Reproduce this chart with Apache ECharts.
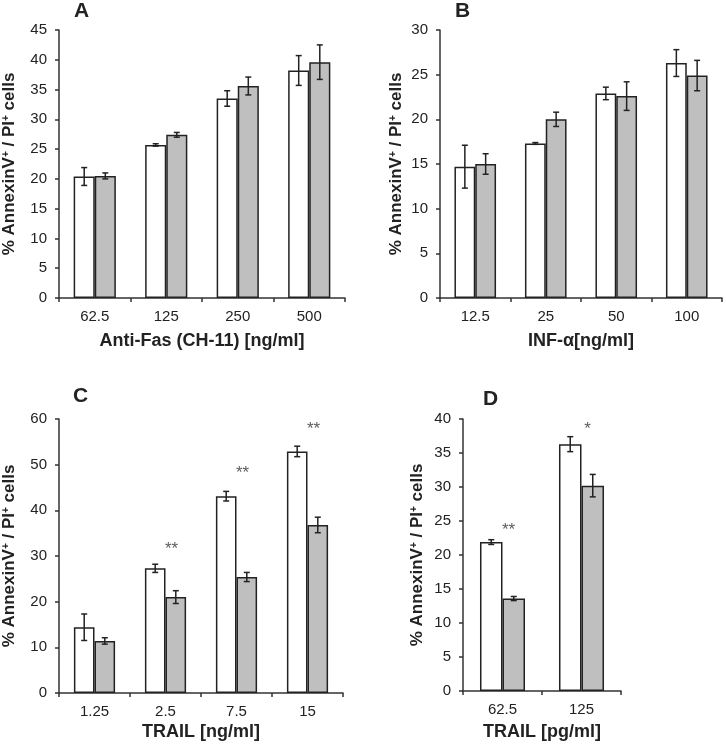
<!DOCTYPE html>
<html>
<head>
<meta charset="utf-8">
<script src="https://cdn.jsdelivr.net/npm/echarts@6/dist/echarts.min.js"></script>
<style>html,body{margin:0;padding:0;background:#fff}#c{width:726px;height:750px}</style>
</head>
<body>
<div id="c"></div>
<script>
// Panel A: Anti-Fas (CH-11)
const catsA = ['62.5', '125', '250', '500'];
const whiteA = [20.4, 25.7, 33.5, 38.2];
const whiteErrA = [1.5, 0.2, 1.3, 2.5];
const greyA = [20.5, 27.4, 35.6, 39.6];
const greyErrA = [0.5, 0.4, 1.5, 2.9];
// Panel B: INF-alpha
const catsB = ['12.5', '25', '50', '100'];
const whiteB = [14.7, 17.3, 22.9, 26.3];
const whiteErrB = [2.4, 0.1, 0.7, 1.5];
const greyB = [15.0, 20.0, 22.6, 24.9];
const greyErrB = [1.15, 0.8, 1.6, 1.7];
// Panel C: TRAIL ng/ml
const catsC = ['1.25', '2.5', '7.5', '15'];
const whiteC = [14.4, 27.3, 43.1, 52.9];
const whiteErrC = [2.9, 0.9, 1.05, 1.15];
const greyC = [11.4, 21.0, 25.4, 36.8];
const greyErrC = [0.7, 1.4, 1.0, 1.7];
const sigC = ['', '**', '**', '**'];
const sigYC = [null, 32.1, 48.7, 58.3];
// Panel D: TRAIL pg/ml
const catsD = ['62.5', '125'];
const whiteD = [21.9, 36.3];
const whiteErrD = [0.35, 1.1];
const greyD = [13.6, 30.2];
const greyErrD = [0.3, 1.65];
const sigD = ['**', '*'];
const sigYD = [24.1, 38.9];

const FONT = "'Liberation Sans', Arial, sans-serif";
const DARK = '#222';

const panels = [
  {cats: catsA, w: whiteA, we: whiteErrA, g: greyA, ge: greyErrA, max: 45, interval: 5, gap: 0.41,
   grid: {left: 59, top: 30, width: 286, height: 268}, xname: 'Anti-Fas (CH-11) [ng/ml]', xgap: 34, ygap: 41},
  {cats: catsB, w: whiteB, we: whiteErrB, g: greyB, ge: greyErrB, max: 30, interval: 5, gap: 0.41,
   grid: {left: 440, top: 30, width: 282, height: 268}, xname: 'INF-\u03b1[ng/ml]', xgap: 34, ygap: 35},
  {cats: catsC, w: whiteC, we: whiteErrC, g: greyC, ge: greyErrC, max: 60, interval: 10, gap: 0.42,
   grid: {left: 59, top: 419, width: 284, height: 274}, xname: 'TRAIL [ng/ml]', xgap: 30, ygap: 41,
   sig: sigC, sigY: sigYC},
  {cats: catsD, w: whiteD, we: whiteErrD, g: greyD, ge: greyErrD, max: 40, interval: 5, gap: 0.43,
   grid: {left: 463, top: 419, width: 158, height: 272}, xname: 'TRAIL [pg/ml]', xgap: 32, ygap: 37,
   sig: sigD, sigY: sigYD}
];

const yName = '{a|% AnnexinV}{s|+}{a| / PI}{s|+}{a| cells}';
const yNameRich = {
  a: {fontSize: 17, fontWeight: 'bold', fontFamily: FONT, color: DARK},
  s: {fontSize: 10, fontWeight: 'bold', fontFamily: FONT, color: DARK, verticalAlign: 'top'}
};

const grids = [], xAxes = [], yAxes = [], series = [];

function errSeries(idx, vals, errs, side, gap) {
  return {
    type: 'custom', xAxisIndex: idx, yAxisIndex: idx, silent: true, z: 10,
    data: vals.map((v, i) => [i, v, errs[i]]),
    renderItem: function (params, api) {
      const i = api.value(0), v = api.value(1), e = api.value(2);
      const band = api.size([1, 0])[0];
      const bw = band * (1 - gap) / 2;
      const c = api.coord([i, v]);
      const x = c[0] + side * bw / 2;
      const top = api.coord([i, v + e])[1];
      const bot = api.coord([i, v - e])[1];
      const cap = 3;
      const st = {stroke: DARK, lineWidth: 1.5};
      return {type: 'group', children: [
        {type: 'line', shape: {x1: x, y1: top, x2: x, y2: bot}, style: st},
        {type: 'line', shape: {x1: x - cap, y1: top, x2: x + cap, y2: top}, style: st},
        {type: 'line', shape: {x1: x - cap, y1: bot, x2: x + cap, y2: bot}, style: st}
      ]};
    }
  };
}

panels.forEach((p, idx) => {
  grids.push(Object.assign({containLabel: false}, p.grid));
  xAxes.push({
    type: 'category', gridIndex: idx, data: p.cats,
    axisLine: {lineStyle: {color: '#333', width: 1.5}},
    axisTick: {show: true, length: 4, lineStyle: {color: '#333', width: 1.5}},
    axisLabel: {fontSize: 15, color: DARK, fontFamily: FONT, margin: 11},
    name: p.xname, nameLocation: 'middle', nameGap: p.xgap,
    nameTextStyle: {fontSize: 18, fontWeight: 'bold', fontFamily: FONT, color: DARK}
  });
  yAxes.push({
    type: 'value', gridIndex: idx, min: 0, max: p.max, interval: p.interval,
    splitLine: {show: false},
    axisLine: {show: true, lineStyle: {color: '#333', width: 1.5}},
    axisTick: {show: true, length: 4, lineStyle: {color: '#333', width: 1.5}},
    axisLabel: {fontSize: 15, color: DARK, fontFamily: FONT, margin: 12},
    name: yName, nameLocation: 'middle', nameGap: p.ygap, nameRotate: 90,
    nameTextStyle: {rich: yNameRich}
  });
  series.push({
    type: 'bar', xAxisIndex: idx, yAxisIndex: idx, data: p.w, barGap: 0, barCategoryGap: (p.gap * 100) + '%',
    itemStyle: {color: '#ffffff', borderColor: DARK, borderWidth: 1.5}, silent: true
  });
  series.push({
    type: 'bar', xAxisIndex: idx, yAxisIndex: idx, data: p.g, barGap: 0, barCategoryGap: (p.gap * 100) + '%',
    itemStyle: {color: '#bfbfbf', borderColor: DARK, borderWidth: 1.5}, silent: true
  });
  series.push(errSeries(idx, p.w, p.we, -1, p.gap));
  series.push(errSeries(idx, p.g, p.ge, 1, p.gap));
  if (p.sig) {
    const sig = p.sig;
    series.push({
      type: 'scatter', xAxisIndex: idx, yAxisIndex: idx, symbolSize: 0, silent: true, z: 11,
      data: sig.map((s, i) => s ? [i, p.sigY[i]] : null).filter(Boolean),
      label: {show: true, position: 'inside', offset: [6, 3], formatter: q => sig[q.value[0]],
              fontSize: 17, color: '#333', fontFamily: FONT}
    });
  }
});

const letters = [
  {t: 'A', left: 74, top: 1},
  {t: 'B', left: 455, top: 1},
  {t: 'C', left: 73, top: 386},
  {t: 'D', left: 483, top: 389}
];

const chart = echarts.init(document.getElementById('c'), null, {renderer: 'canvas'});
chart.setOption({
  animation: false,
  backgroundColor: '#ffffff',
  grid: grids, xAxis: xAxes, yAxis: yAxes, series: series,
  graphic: letters.map(l => ({type: 'text', left: l.left, top: l.top,
    style: {text: l.t, font: 'bold 21px ' + FONT, fill: DARK}}))
});
</script>
</body>
</html>
